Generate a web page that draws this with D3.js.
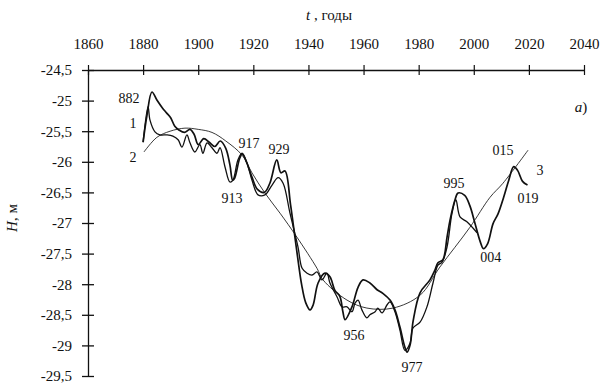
<!DOCTYPE html>
<html><head><meta charset="utf-8">
<script src="https://cdn.jsdelivr.net/npm/d3@7"></script>
<style>
body{margin:0;background:#fff}
text{font-family:"Liberation Serif","Times New Roman",serif;fill:#111}
</style>
</head><body>
<svg id="chart" width="601" height="390"></svg>
<script>
// Axis ticks
const yearTicks = [1860,1880,1900,1920,1940,1960,1980,2000,2020,2040];
const levelTicks = [-24.5,-25,-25.5,-26,-26.5,-27,-27.5,-28,-28.5,-29,-29.5];

// Curve 2: smooth trend
const trendYears  = [1880.3,1885,1889.8,1895.2,1900,1905,1910,1915.9,1919.5,1924.2,1929.7,1935.8,1943.1,1945.3,1954,1961.2,1970.7,1980.5,1987.7,1998.6,2005.9,2010.6,2019.7];
const trendLevels = [-25.84,-25.6,-25.5,-25.45,-25.47,-25.52,-25.66,-25.89,-26.18,-26.51,-26.84,-27.23,-27.74,-27.93,-28.26,-28.39,-28.39,-28.18,-27.72,-27.07,-26.58,-26.35,-25.81];

// Curve 1
const curve1Years  = [1880,1881.8,1882.5,1884.3,1886.1,1888.7,1890.8,1892.7,1894.1,1895.9,1897,1898.8,1900.6,1901.7,1903.2,1905,1906.8,1907.9,1909.7,1911.5,1912.6,1914.4,1915.9,1917.7,1919.5,1921.7,1924.2,1926.8,1929,1930.8,1933.3,1936.2,1937.7,1939.5,1941.3,1943.1,1944.9,1946.7,1947.8,1950.4,1952.2,1954,1955.8,1956.9,1958,1959.4,1961.2,1962.3,1964.2,1965.2,1966.7,1968.5,1969.6,1971.4,1973.2,1975,1976.9,1977.9,1980.5,1983,1985.2,1987,1988.5,1990.3,1992.1,1993.5,1995,1997.5,2001.2];
const curve1Levels = [-25.68,-25.1,-25.32,-25.51,-25.56,-25.56,-25.58,-25.64,-25.76,-25.56,-25.69,-25.84,-25.72,-25.86,-25.69,-25.77,-25.86,-25.77,-26.08,-26.33,-26.3,-25.97,-25.86,-26.02,-26.3,-26.54,-26.54,-26.38,-26.26,-26.35,-26.84,-27.39,-27.74,-27.82,-27.85,-27.8,-27.93,-27.82,-27.98,-28.21,-28.37,-28.37,-28.45,-28.31,-28.26,-28.42,-28.55,-28.5,-28.45,-28.39,-28.47,-28.34,-28.29,-28.45,-28.75,-29.08,-28.96,-28.72,-28.62,-28.37,-27.98,-27.69,-27.64,-27.39,-26.84,-26.62,-26.9,-26.98,-27.16];

// Curve 3
const curve3Years  = [1880,1881.4,1883.2,1885,1887,1888.5,1890,1891.5,1893,1895,1897,1898.5,1900,1902,1904,1906,1908,1910,1911.5,1912.5,1913.2,1915,1916,1917.5,1919.5,1921.5,1924,1926,1928.5,1930,1931.5,1933.5,1935,1936.5,1937.5,1939,1940.6,1941.7,1943.5,1946,1947.8,1949.6,1951.4,1952.5,1953.3,1955.8,1958,1959.8,1962.3,1964.9,1967,1969.6,1971.4,1973.2,1975,1975.8,1976.9,1978,1980.5,1984.1,1985.9,1987,1988.8,1990.3,1991.4,1993.2,1994.3,1996.7,1998.6,2000.4,2002.3,2003.5,2005,2007,2008.8,2010.9,2012.7,2014.5,2015.9,2017.7,2019.5];
const curve3Levels = [-25.68,-25.24,-24.86,-24.99,-25.12,-25.2,-25.28,-25.42,-25.48,-25.52,-25.47,-25.55,-25.72,-25.62,-25.68,-25.75,-25.66,-25.78,-26.05,-26.3,-26.27,-25.95,-25.87,-26.0,-26.25,-26.45,-26.5,-26.35,-25.97,-26.18,-26.15,-26.7,-27.2,-27.7,-28.0,-28.3,-28.42,-28.34,-27.98,-27.82,-27.88,-28.1,-28.2,-28.45,-28.58,-28.37,-28.05,-27.93,-27.98,-28.09,-28.15,-28.26,-28.42,-28.7,-29.03,-29.11,-28.99,-28.6,-28.14,-27.93,-27.77,-27.65,-27.6,-27.23,-26.95,-26.62,-26.51,-26.55,-26.72,-27.0,-27.3,-27.42,-27.34,-27.01,-26.85,-26.57,-26.3,-26.08,-26.14,-26.32,-26.38];

// Annotations: text and anchor (year, level)
const noteTexts  = ["882","1","2","917","913","929","956","977","995","004","015","019","3"];
const noteYears  = [1874.9,1876.3,1876.3,1918.4,1912.3,1929.3,1956.5,1977.6,1992.8,2006.2,2010.6,2019.7,2024];
const noteLevels = [-24.96,-25.37,-25.92,-25.69,-26.59,-25.79,-28.83,-29.35,-26.35,-27.56,-25.81,-26.59,-26.13];

const svg = d3.select("#chart");
svg.append("rect").attr("width",601).attr("height",390).attr("fill","#fff");

const x = d3.scaleLinear().domain([1860,2040]).range([88,584]);
const y = d3.scaleLinear().domain([-24.5,-29.5]).range([70,376]);

const fmt = d => String(d).replace(".", ",");

// Top axis with ticks crossing the line
const gx = svg.append("g").attr("transform","translate(0,70)")
  .call(d3.axisTop(x).tickValues(yearTicks).tickSize(5).tickPadding(16).tickFormat(d3.format("d")).tickSizeOuter(0));
gx.selectAll(".tick line").attr("y1",5).attr("stroke","#111").attr("stroke-width",1.2);
gx.select(".domain").attr("stroke","#111").attr("stroke-width",1.3);
gx.selectAll("text").attr("font-size",15).attr("fill","#111");

// Left axis with ticks crossing the line
const gy = svg.append("g").attr("transform","translate(88,0)")
  .call(d3.axisLeft(y).tickValues(levelTicks).tickSize(6).tickPadding(10).tickFormat(fmt).tickSizeOuter(0));
gy.selectAll(".tick line").attr("x1",6).attr("stroke","#111").attr("stroke-width",1.3);
gy.select(".domain").attr("stroke","#111").attr("stroke-width",1.3);
gy.selectAll("text").attr("font-size",15).attr("fill","#111");

// Axis titles
const tt = svg.append("text").attr("x",329).attr("y",20).attr("text-anchor","middle").attr("font-size",15);
tt.append("tspan").attr("font-style","italic").text("t");
tt.append("tspan").text(" , годы");

const ht = svg.append("text").attr("transform","translate(17,218) rotate(-90)").attr("text-anchor","middle").attr("font-size",15);
ht.append("tspan").attr("font-style","italic").text("H");
ht.append("tspan").text(", м");

svg.append("text").attr("x",x(2038.9)).attr("y",y(-25.1)).attr("dy","0.35em").attr("text-anchor","middle").attr("font-size",15)
  .html('<tspan font-style="italic">a</tspan>)');

// Curves
const line = d3.line().x(d => x(d[0])).y(d => y(d[1])).curve(d3.curveCatmullRom.alpha(0.5));
const zip = (a, b) => a.map((v, i) => [v, b[i]]);

svg.append("path").datum(zip(trendYears, trendLevels)).attr("d", line)
  .attr("fill","none").attr("stroke","#222").attr("stroke-width",0.9);
svg.append("path").datum(zip(curve1Years, curve1Levels)).attr("d", line)
  .attr("fill","none").attr("stroke","#111").attr("stroke-width",1.3);
svg.append("path").datum(zip(curve3Years, curve3Levels)).attr("d", line)
  .attr("fill","none").attr("stroke","#111").attr("stroke-width",1.7);

// Annotations
svg.append("g").selectAll("text").data(noteTexts).join("text")
  .attr("x",(d,i) => x(noteYears[i])).attr("y",(d,i) => y(noteLevels[i]))
  .attr("dy","0.35em").attr("text-anchor","middle").attr("font-size",14).text(d => d);
</script>
</body></html>
